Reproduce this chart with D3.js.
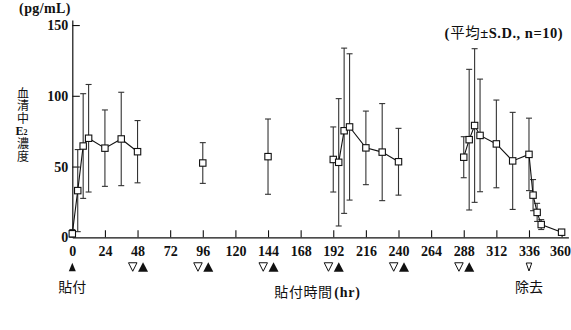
<!DOCTYPE html>
<html>
<head>
<meta charset="utf-8">
<script src="https://cdn.jsdelivr.net/npm/d3@7"></script>
<style>
  body { margin: 0; background: #fff; }
  svg { display: block; }
</style>
</head>
<body>
<script>
// Serum E2 concentration during repeated patch application (mean ± S.D., n = 10)
const hours    = [0, 4, 8, 12, 24, 36, 48, 96, 144, 192, 196, 200, 204, 216, 228, 240,
                  288, 292, 296, 300, 312, 324, 336, 339, 342, 345, 360];
const meanConc = [2.5, 33, 64.5, 70, 63, 69.5, 60.5, 52.5, 57, 55, 53, 75.3, 78, 63.2, 60.2, 53.4,
                  56.6, 69, 79, 72, 66, 54, 58.6, 29.8, 17.6, 9, 3.6];
const sdConc   = [3, 29, 37, 38, 27, 33, 22, 14.4, 26.6, 23, 45, 58.4, 51.7, 26, 34.3, 23.6,
                  14.5, 49.7, 54.3, 39.8, 31, 34.3, 25.6, 11, 6.4, 3.5, 1];

// sampling periods whose points are joined by a line
const runs = [[0, 48], [96, 96], [144, 144], [192, 240], [288, 360]];

const xTicks = d3.range(0, 361, 24);
const yTicks = [0, 50, 100, 150];

const applyHours  = [0, 48, 96, 144, 192, 240, 288];   // ▲ patch applied
const removeHours = [48, 96, 144, 192, 240, 288, 336]; // ▽ patch removed

const W = 571, H = 330;
const SERIF = "'Liberation Serif', 'DejaVu Serif', serif";
const CJK = "'Noto Sans CJK JP', 'Noto Sans CJK SC', sans-serif";

const points = hours.map((h, i) => ({ h, m: meanConc[i], sd: sdConc[i] }));

const x = d3.scaleLinear().domain([0, 365]).range([72.3, 568.4]);
const y = d3.scaleLinear().domain([0, 153.5]).range([237.3, 20.1]);

const svg = d3.select("body").append("svg")
  .attr("width", W).attr("height", H)
  .attr("viewBox", `0 0 ${W} ${H}`);

svg.append("rect").attr("width", W).attr("height", H).attr("fill", "#fff");

// axes
const xAxis = svg.append("g")
  .attr("transform", `translate(0,${y(0)})`)
  .call(d3.axisBottom(x).tickValues(xTicks).tickSizeInner(-7).tickSizeOuter(0).tickPadding(8.5));
const yAxis = svg.append("g")
  .attr("transform", `translate(${x(0)},0)`)
  .call(d3.axisLeft(y).tickValues(yTicks).tickSizeInner(-7.5).tickSizeOuter(0).tickPadding(4));

[xAxis, yAxis].forEach(g => {
  g.select(".domain").attr("stroke", "#111").attr("stroke-width", 1.2);
  g.selectAll(".tick line").attr("stroke", "#111").attr("stroke-width", 1.1);
  g.selectAll(".tick text")
    .attr("fill", "#111")
    .attr("font-family", SERIF)
    .attr("font-weight", "bold")
    .attr("font-size", 14);
});
yAxis.selectAll(".tick").filter(d => d === 0).select("line").remove();
xAxis.selectAll(".tick").filter(d => d === 0).select("line").remove();
xAxis.selectAll(".tick").filter(d => d === 360).select("text").attr("dx", -1.5);

// error bars
const eb = svg.append("g").attr("stroke", "#333").attr("stroke-width", 1.1).attr("fill", "none");
points.forEach(p => {
  const lo = y(Math.max(0, p.m - p.sd)), hi = y(p.m + p.sd), cx = x(p.h);
  eb.append("line").attr("x1", cx).attr("x2", cx).attr("y1", lo).attr("y2", hi);
  eb.append("line").attr("x1", cx - 3).attr("x2", cx + 3).attr("y1", hi).attr("y2", hi);
  eb.append("line").attr("x1", cx - 3).attr("x2", cx + 3).attr("y1", lo).attr("y2", lo);
});

// connecting lines
const line = d3.line().x(d => x(d.h)).y(d => y(d.m));
runs.forEach(([a, b]) => {
  const seg = points.filter(p => p.h >= a && p.h <= b);
  if (seg.length > 1) {
    svg.append("path").datum(seg)
      .attr("d", line)
      .attr("fill", "none")
      .attr("stroke", "#111")
      .attr("stroke-width", 1.1);
  }
});

// markers
const S = 6.4;
svg.append("g").selectAll("rect").data(points).join("rect")
  .attr("x", d => x(d.h) - S / 2)
  .attr("y", d => y(d.m) - S / 2)
  .attr("width", S).attr("height", S)
  .attr("fill", "#fff")
  .attr("stroke", "#111")
  .attr("stroke-width", 1.1);

// application / removal triangles below the time axis
const triY = 267;
const paired = h => applyHours.includes(h) && removeHours.includes(h);
const tri = svg.append("g");
applyHours.forEach(h => {
  const cx = x(h) + (paired(h) ? 5.5 : 0);
  const w = paired(h) ? 10 : 7, ht = paired(h) ? 9.5 : 8.5;
  tri.append("path")
    .attr("d", `M${cx - w / 2},${triY + ht / 2}L${cx + w / 2},${triY + ht / 2}L${cx},${triY - ht / 2}Z`)
    .attr("fill", "#111");
});
removeHours.forEach(h => {
  const cx = x(h) - (paired(h) ? 4.8 : 0);
  const w = paired(h) ? 8.5 : 5.5, ht = paired(h) ? 8.5 : 8;
  tri.append("path")
    .attr("d", `M${cx - w / 2},${triY - ht / 2}L${cx + w / 2},${triY - ht / 2}L${cx},${triY + ht / 2}Z`)
    .attr("fill", "#fff")
    .attr("stroke", "#111")
    .attr("stroke-width", 1);
});

// texts
const txt = (tx, ty, anchor) => svg.append("text")
  .attr("x", tx).attr("y", ty).attr("text-anchor", anchor).attr("fill", "#111");

txt(72.3, 292, "middle").attr("font-family", CJK).attr("font-size", 14).text("貼付");
txt(x(336), 292, "middle").attr("font-family", CJK).attr("font-size", 14).text("除去");

const xt = txt(317.5, 297, "middle").attr("font-size", 14);
xt.append("tspan").attr("font-family", CJK).attr("letter-spacing", 0.6).text("貼付時間");
xt.append("tspan").attr("font-family", SERIF).attr("font-weight", "bold")
  .attr("letter-spacing", 0.8).attr("dx", 1.5).text("(hr)");

const unit = txt(45, 13, "middle").attr("font-family", SERIF).attr("font-weight", "bold")
  .attr("font-size", 14).attr("letter-spacing", 0.4);
unit.text("(pg/mL)");

const note = txt(563, 38, "end").attr("font-size", 14.5);
note.append("tspan").attr("font-family", SERIF).attr("font-weight", "bold").text("(");
note.append("tspan").attr("font-family", CJK).attr("dx", 1).attr("letter-spacing", 0.5).text("平均");
note.append("tspan").attr("font-family", SERIF).attr("font-weight", "bold")
  .attr("letter-spacing", 0.5).text("±S.D., n=10)");

// vertical y-axis title: 血清中 / E₂ / 濃度
const vert = (s, top) => svg.append("text")
  .attr("x", 23).attr("y", top)
  .attr("fill", "#111")
  .attr("font-family", CJK)
  .attr("font-size", 12)
  .attr("letter-spacing", 0.9)
  .style("writing-mode", "vertical-rl")
  .style("text-orientation", "upright")
  .text(s);
vert("血清中", 87);
vert("濃度", 137.6);

const e2 = svg.append("text")
  .attr("x", 21.5).attr("y", 135)
  .attr("text-anchor", "middle")
  .attr("fill", "#111")
  .attr("font-family", SERIF)
  .attr("font-weight", "bold")
  .attr("font-size", 12);
e2.append("tspan").text("E");
e2.append("tspan").attr("font-size", 8).text("2");
</script>
</body>
</html>
